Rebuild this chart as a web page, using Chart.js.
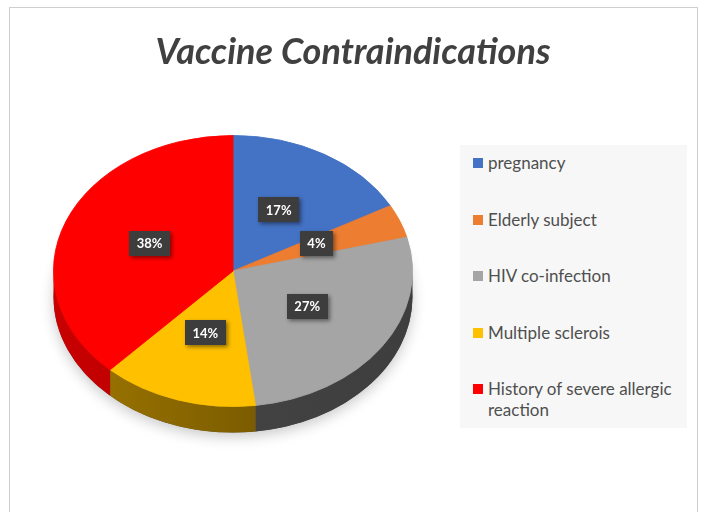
<!DOCTYPE html>
<html>
<head>
<meta charset="utf-8">
<script src="https://cdn.jsdelivr.net/npm/chart.js@4.4.1/dist/chart.umd.min.js"></script>
<style>
  html, body { margin: 0; padding: 0; background: #fff; }
  body { width: 701px; height: 512px; position: relative; overflow: hidden; font-family: Lato, "Open Sans", sans-serif; }
  #frame { position: absolute; left: 9px; top: 7px; width: 687px; height: 520px; border: 1px solid #cfcfcf; }
  #title { position: absolute; left: 0; width: 706px; top: 28px; text-align: center; font: italic bold 36px Lato, sans-serif; color: #404040; }
  #chartBox { position: absolute; left: 0; top: 0; width: 701px; height: 512px; }
  #legend { position: absolute; left: 460px; top: 145px; width: 227px; height: 283px; background: #f7f7f7; box-sizing: border-box; padding: 7px 0 0 13px; display: flex; flex-direction: column; gap: 35.5px; }
  .item { display: flex; align-items: flex-start; font-size: 17px; line-height: 21px; color: #4f4f4f; }
  .sw { width: 10px; height: 10px; margin: 6px 5px 0 0; flex: none; }
</style>
</head>
<body>
<div id="frame"></div>
<div id="chartBox"><canvas id="pie"></canvas></div>
<div id="title">Vaccine Contraindications</div>
<div id="legend"></div>
<script>
// data
const categories = ['pregnancy', 'Elderly subject', 'HIV co-infection', 'Multiple sclerois', 'History of severe allergic reaction'];
const shares = [17, 4, 27, 14, 38];
const colors = ['#4472c4', '#ed7d31', '#a5a5a5', '#ffc000', '#ff0000'];
const sideColors = [['#30549a', '#223d70'], ['#b85e22', '#8a4518'], ['#474747', '#3e3e3e'], ['#a07800', '#5e4600'], ['#c80000', '#a00000']];

const TILT = 0.755;
const DEPTH = 26;

// legend
const legend = document.getElementById('legend');
categories.forEach((c, i) => {
  const el = document.createElement('div');
  el.className = 'item';
  el.innerHTML = `<span class="sw" style="background:${colors[i]}"></span><span style="width:195px">${c}</span>`;
  legend.appendChild(el);
});

/**
 * tilt the pie and draw a side wall under it
 */
const pie3d = {
  id: 'pie3d',
  beforeDatasetsDraw(chart) {
    const ctx = chart.ctx;
    const arcs = chart.getDatasetMeta(0).data;
    const cx = arcs[0].x, cy = arcs[0].y, r = arcs[0].outerRadius;
    ctx.save();
    // soft shadow
    ctx.save();
    ctx.shadowColor = 'rgba(0,0,0,0.22)';
    ctx.shadowBlur = 14;
    ctx.shadowOffsetY = 4;
    ctx.beginPath();
    ctx.ellipse(cx, cy + DEPTH, r, r * TILT, 0, 0, Math.PI * 2);
    ctx.fillStyle = '#555';
    ctx.fill();
    ctx.restore();

    ctx.translate(cx, cy);
    ctx.scale(1, TILT);
    ctx.translate(-cx, -cy);
    const d = DEPTH / TILT;
    arcs.forEach((arc, i) => {
      const a0 = Math.max(arc.startAngle, 0);
      const a1 = Math.min(arc.endAngle, Math.PI);
      if (a1 <= a0) return;
      const g = ctx.createLinearGradient(cx - r, 0, cx + r, 0);
      g.addColorStop(0, sideColors[i][0]);
      g.addColorStop(1, sideColors[i][1]);
      ctx.beginPath();
      ctx.arc(cx, cy, r, a0, a1);
      ctx.arc(cx, cy + d, r, a1, a0, true);
      ctx.closePath();
      ctx.fillStyle = g;
      ctx.fill();
    });
  },
  afterDatasetsDraw(chart) {
    const ctx = chart.ctx;
    ctx.restore();
    const arcs = chart.getDatasetMeta(0).data;
    const total = shares.reduce((a, b) => a + b, 0);
    ctx.save();
    ctx.font = 'bold 13px Lato, sans-serif';
    ctx.textAlign = 'center';
    ctx.textBaseline = 'middle';
    arcs.forEach((arc, i) => {
      const mid = (arc.startAngle + arc.endAngle) / 2;
      const x = arc.x + Math.cos(mid) * arc.outerRadius * 0.5;
      const y = arc.y - 3 + Math.sin(mid) * arc.outerRadius * 0.5 * TILT;
      const txt = Math.round(shares[i] / total * 100) + '%';
      const w = ctx.measureText(txt).width + 15;
      const h = 25;
      ctx.save();
      ctx.shadowColor = 'rgba(0,0,0,0.45)';
      ctx.shadowBlur = 4;
      ctx.shadowOffsetX = 2;
      ctx.shadowOffsetY = 2;
      ctx.fillStyle = '#3d3d3d';
      ctx.fillRect(Math.round(x - w / 2), Math.round(y - h / 2), Math.round(w), h);
      ctx.restore();
      ctx.fillStyle = '#ffffff';
      ctx.fillText(txt, x, y + 1);
    });
    ctx.restore();
  }
};

const ctx = document.getElementById('pie').getContext('2d');
new Chart(ctx, {
  type: 'pie',
  data: {
    labels: categories,
    datasets: [{
      data: shares,
      backgroundColor: colors,
      borderColor: colors,
      borderWidth: 1
    }]
  },
  options: {
    responsive: true,
    maintainAspectRatio: false,
    animation: false,
    layout: { padding: { left: 53, right: 288, top: 91, bottom: 61 } },
    plugins: {
      legend: { display: false },
      tooltip: { enabled: false }
    }
  },
  plugins: [pie3d]
});
</script>
</body>
</html>
